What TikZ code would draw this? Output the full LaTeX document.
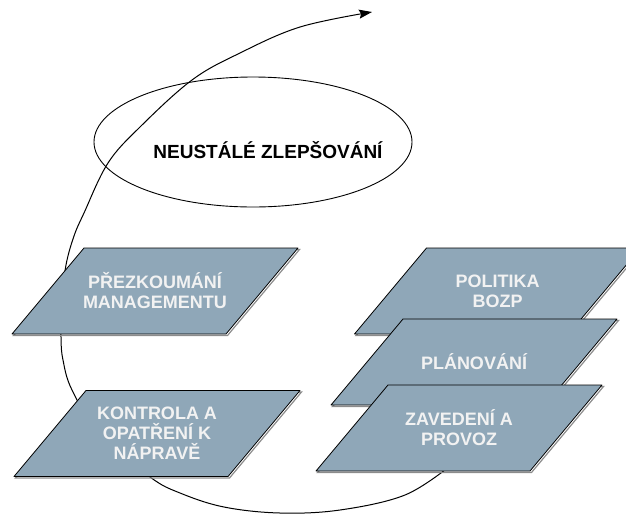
\documentclass[tikz,border=0pt]{standalone}
\usepackage{fontspec}
\setmainfont{Liberation Sans}
\usetikzlibrary{arrows.meta, shapes.geometric}
\definecolor{deska}{RGB}{143,167,184}

% deska: jmeno, stred x, stred y, text
\newcommand{\deska}[4]{%
        \draw[stin] (#2-69.5, #3-41.5) -- ++(214, 0) -- ++(-72, 86) -- ++(-214, 0) -- cycle;
        \filldraw[obrys] (#2-71, #3-43) -- ++(214, 0) -- ++(-72, 86) -- ++(-214, 0) -- cycle;
        \node[popis] (#1) at (#2, #3) {#4};}

\begin{document}
\begin{tikzpicture}[x = 1pt, y = -1pt,
        obrys/.style = {draw = black, line width = 0.8pt, fill = deska, line join = round},
        stin/.style = {draw = black!45, line width = 1.2pt},
        popis/.style = {text = white!95!black, align = center, font = \bfseries\fontsize{18}{20}\selectfont},
        spirala/.style = {line width = 1pt, -{Stealth[length = 13pt, width = 9pt, inset = 2pt]}}]
                \useasboundingbox (0, 0) rectangle (626, 515);
                % spirala pod deskami
                \draw[spirala] plot[smooth, tension = 0.6] coordinates {(450, 466) (405, 495) (340, 510) (280, 513) (224, 507) (180, 493) (150, 477) (100, 435) (72, 390) (63, 360) (61, 337) (62, 300) (66, 265) (74, 236) (84, 213) (108, 163) (140, 127) (192, 80) (240, 53) (300, 27) (372, 12)};
                \node[draw, ellipse, line width = 0.9pt, minimum width = 318pt, minimum height = 130pt] (kruh) at (253, 142) {};
                \node[font = \bfseries\fontsize{19}{22}\selectfont] (zlepsovani) at (268, 150) {NEUSTÁLÉ ZLEPŠOVÁNÍ};
                \deska{prezkoumani}{155}{291}{PŘEZKOUMÁNÍ\\MANAGEMENTU}
                \deska{kontrola}{157}{433.5}{KONTROLA A\\OPATŘENÍ K\\NÁPRAVĚ}
                \deska{politika}{497.5}{291}{POLITIKA\\BOZP}
                \deska{planovani}{474}{362}{PLÁNOVÁNÍ}
                \deska{zavedeni}{459}{428}{ZAVEDENÍ A\\PROVOZ}
\end{tikzpicture}
\end{document}
